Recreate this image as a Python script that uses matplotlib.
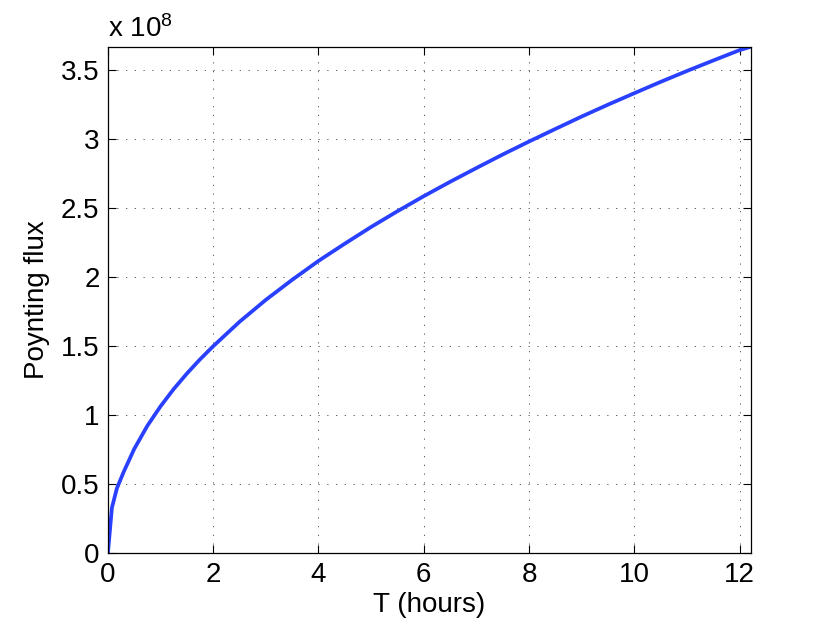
import matplotlib
matplotlib.use("Agg")
import matplotlib.pyplot as plt
from matplotlib.ticker import FuncFormatter

# time in hours, flux values (in units of 1e8)
hours = [0, 0.076, 0.17, 0.3, 0.5, 0.75, 1.0, 1.25, 1.5, 1.75, 2.0, 2.5, 3.0,
         3.5, 4.0, 4.5, 5.0, 5.5, 6.0, 6.5, 7.0, 7.5, 8.0, 8.5, 9.0, 9.5,
         10.0, 10.5, 11.0, 11.5, 12.0, 12.22]
flux_e8 = [0, 0.33, 0.47, 0.59, 0.756, 0.924, 1.065, 1.19, 1.302, 1.405, 1.5,
           1.677, 1.836, 1.981, 2.118, 2.243, 2.364, 2.478, 2.587, 2.691, 2.791,
           2.889, 2.983, 3.074, 3.164, 3.25, 3.333, 3.415, 3.494, 3.57, 3.645,
           3.67]
flux = [v * 1e8 for v in flux_e8]

xticks = [0, 2, 4, 6, 8, 10, 12]
yticks = [0, 0.5e8, 1e8, 1.5e8, 2e8, 2.5e8, 3e8, 3.5e8]

plt.rcParams['font.family'] = ['Liberation Sans', 'DejaVu Sans']
plt.rcParams['mathtext.fontset'] = 'custom'
plt.rcParams['mathtext.rm'] = 'Liberation Sans'
plt.rcParams['mathtext.it'] = 'Liberation Sans:italic'

fig = plt.figure(figsize=(8.3, 6.25), dpi=100)
ax = fig.add_axes([0.13, 0.1147, 0.775, 0.8106])

ax.plot(hours, flux, color='#2a40ff', linewidth=2.7, solid_capstyle='round')

ax.set_xlim(0, hours[-1])
ax.set_ylim(0, flux[-1])
ax.set_xticks(xticks)
ax.set_yticks(yticks)
ax.yaxis.set_major_formatter(FuncFormatter(lambda v, p: '%g' % (v / 1e8)))

ax.grid(True, color='#444444', linewidth=0.6, linestyle=(0, (1.5, 9)))
ax.tick_params(direction='in', length=6, width=0.8, labelsize=20,
               top=True, right=True, pad=6)
for s in ax.spines.values():
    s.set_linewidth(0.9)

ax.set_xlabel('T (hours)', fontsize=20, labelpad=3)
ax.set_ylabel('Poynting flux', fontsize=20, labelpad=8)
ax.text(0, 1.02, 'x 10$^{\\mathrm{8}}$', transform=ax.transAxes, fontsize=20,
        ha='left', va='baseline')

fig.savefig('out.png', dpi=100)
